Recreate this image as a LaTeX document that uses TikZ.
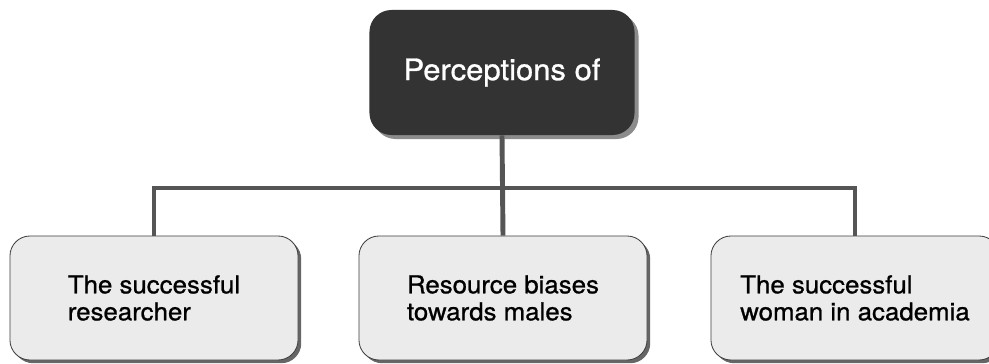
\documentclass[tikz,border=0pt]{standalone}
\usepackage{fontspec}
\setmainfont{TeX Gyre Heros}
\newfontfamily\boxfont{TeX Gyre Heros}[FakeBold=0.9, FakeStretch=1.05]
\usetikzlibrary{shadows}
\definecolor{topfill}{HTML}{333333}
\definecolor{subfill}{HTML}{EBEBEB}
\definecolor{linkgray}{HTML}{555555}
\tikzset{
	topbox/.style={rounded corners=0.55cm, fill=topfill, text=white,
		minimum width=6.625cm, minimum height=3.125cm, inner sep=0pt,
		font=\boxfont\fontsize{21}{24}\selectfont,
		drop shadow={shadow xshift=0.1cm, shadow yshift=-0.1cm, fill=black!45, opacity=1}},
	subbox/.style={rounded corners=0.5cm, draw=black!75, line width=0.6pt, fill=subfill,
		minimum width=7.2cm, minimum height=3.1cm, inner sep=0pt, align=left,
		font=\boxfont\fontsize{17.5}{19.2}\selectfont,
		drop shadow={shadow xshift=0.08cm, shadow yshift=-0.08cm, fill=black!60, opacity=1}},
	link/.style={draw=linkgray, line width=3.5pt}
}
\begin{document}
\begin{tikzpicture}[x=0.025cm, y=0.025cm]
	\useasboundingbox (0, 0) rectangle (989, 363);
	\node[topbox] at (502, 290.5) (percep) {Perceptions of};
	\node[subbox] at (154, 65) (researcher) {The successful\\researcher};
	\node[subbox] at (503, 65) (biases) {Resource biases\\towards males};
	\node[subbox] at (855, 65) (woman) {The successful\\woman in academia};
	\coordinate (bar) at (0, 175);
	\draw[link] (percep.south) -- (biases.north);
	\draw[link] (researcher.north) -- (researcher.north |- bar) -- (woman.north |- bar) -- (woman.north);
\end{tikzpicture}
\end{document}
